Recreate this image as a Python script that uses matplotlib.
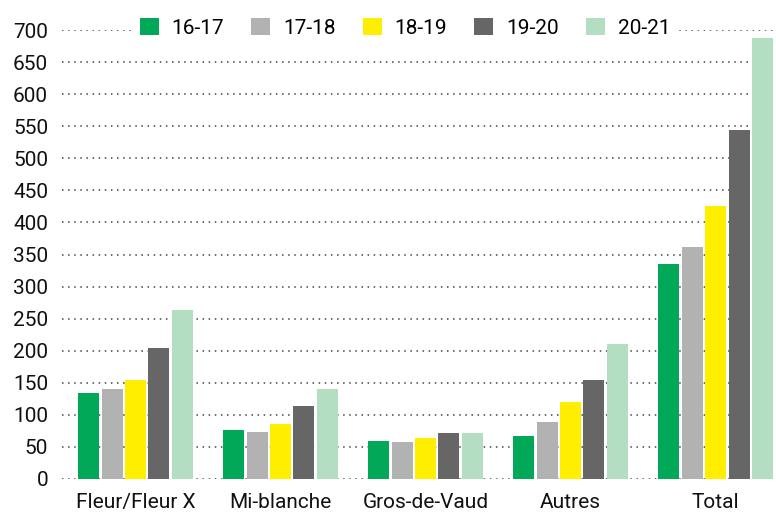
import matplotlib
matplotlib.use("Agg")
import matplotlib.pyplot as plt
import numpy as np
from matplotlib.patches import Patch

plt.rcParams['font.family'] = ['Roboto', 'DejaVu Sans']

categories = ["Fleur/Fleur X", "Mi-blanche", "Gros-de-Vaud", "Autres", "Total"]
series = ["16-17", "17-18", "18-19", "19-20", "20-21"]
v_16_17 = [134, 76, 59, 67, 335]
v_17_18 = [140, 73, 58, 89, 362]
v_18_19 = [154, 86, 64, 120, 426]
v_19_20 = [204, 114, 72, 154, 544]
v_20_21 = [263, 140, 72, 210, 688]
values = [v_16_17, v_17_18, v_18_19, v_19_20, v_20_21]
colors = ["#00a857", "#b2b2b2", "#ffee00", "#666666", "#b3dec1"]
yticks = list(range(0, 701, 50))

fig = plt.figure(figsize=(7.76, 5.13), dpi=100)
ax = fig.add_axes([62/776, 1-479/513, 1-62/776, 449/513])

x = np.arange(len(categories))
step = 0.161
width = 0.145
for i, (vals, c) in enumerate(zip(values, colors)):
    ax.bar(x + (i - 2) * step, vals, width=width, color=c, zorder=3, clip_on=False)

ax.set_xlim(-0.507, 4.416)
ax.set_ylim(0, 700)
ax.set_yticks(yticks)
ax.set_xticks(x)
ax.set_xticklabels(categories)
ax.tick_params(axis='both', length=0, labelsize=15, colors='#111111')
ax.tick_params(axis='y', pad=10)
ax.tick_params(axis='x', pad=10)
ax.yaxis.grid(True, linestyle=(0, (1, 3)), color='#444444', linewidth=1.1, zorder=0)
for s in ax.spines.values():
    s.set_visible(False)

handles = [Patch(facecolor=c, edgecolor='none') for c in colors]
leg = fig.legend(handles, series, loc='center', bbox_to_anchor=(405/776, 1-28/513),
                 ncol=5, fontsize=15, frameon=True, facecolor='white', edgecolor='none',
                 framealpha=1, handlelength=0.91, handleheight=0.91, handletextpad=0.62,
                 columnspacing=1.3, borderpad=0.3, borderaxespad=0, fancybox=False)
leg.set_zorder(5)

fig.savefig("out.png", dpi=100)
